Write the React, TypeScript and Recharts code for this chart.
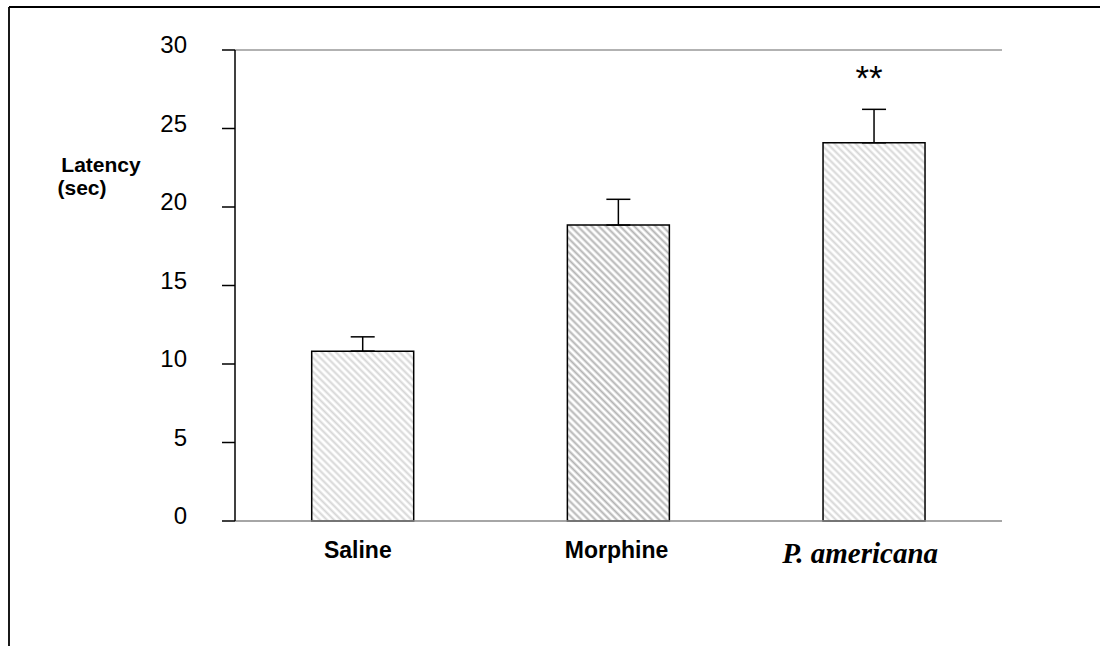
import React from "react";
import {
  BarChart,
  Bar,
  Cell,
  XAxis,
  YAxis,
  ErrorBar,
  LabelList,
  ReferenceLine,
} from "recharts";

// groups, mean latency (sec) and upper SEM bar end
const groups = ["Saline", "Morphine", "P. americana"];
const latency = [10.82, 18.85, 24.09];
const upperEnd = [11.73, 20.49, 26.22];
const marks = ["", "", "**"];
const yTicks = [0, 5, 10, 15, 20, 25, 30];

const hatch = ["hatchLight", "hatchDark", "hatchLight"];

const data = groups.map((g, i) => ({
  group: g,
  latency: latency[i],
  err: [0, +(upperEnd[i] - latency[i]).toFixed(2)],
  sig: marks[i],
}));

const SANS = "'Liberation Sans', Arial, sans-serif";
const SERIF = "'Liberation Serif', 'Times New Roman', serif";

const YTick = (props: any) => {
  const { x, y, payload } = props;
  return (
    <text x={x} y={y + 3} textAnchor="end" fontFamily={SANS} fontSize={24} fill="#000">
      {payload.value}
    </text>
  );
};

const XTick = (props: any) => {
  const { x, y, payload, index } = props;
  if (payload.value === "P. americana") {
    return (
      <text
        x={x - 14}
        y={y + 42}
        textAnchor="middle"
        fontFamily={SERIF}
        fontStyle="italic"
        fontWeight="bold"
        fontSize={29}
        fill="#000"
      >
        {payload.value}
      </text>
    );
  }
  const dx = index === 0 ? -5 : -2;
  return (
    <text
      x={x + dx}
      y={y + 37}
      textAnchor="middle"
      fontFamily={SANS}
      fontWeight="bold"
      fontSize={23}
      fill="#000"
    >
      {payload.value}
    </text>
  );
};

const SigLabel = (props: any) => {
  const { x, y, width, value } = props;
  if (!value) return null;
  return (
    <text
      x={x + width / 2 - 5}
      y={y - 53}
      textAnchor="middle"
      fontFamily={SANS}
      fontSize={35}
      fill="#000"
    >
      {value}
    </text>
  );
};

export default function App() {
  return (
    <div style={{ position: "absolute", left: 0, top: 0, width: 1100, height: 646, background: "#fff" }}>
      <svg width={0} height={0} style={{ position: "absolute" }}>
        <defs>
          <pattern id="hatchLight" patternUnits="userSpaceOnUse" width={5} height={5} patternTransform="rotate(45)">
            <rect width={5} height={5} fill="#fff" />
            <line x1={0} y1={1.5} x2={5} y2={1.5} stroke="#d6d6d6" strokeWidth={2} />
          </pattern>
          <pattern id="hatchDark" patternUnits="userSpaceOnUse" width={5} height={5} patternTransform="rotate(45)">
            <rect width={5} height={5} fill="#fff" />
            <line x1={0} y1={1.5} x2={5} y2={1.5} stroke="#b4b4b4" strokeWidth={2} />
          </pattern>
        </defs>
      </svg>
      <svg
        width={1100}
        height={646}
        style={{ position: "absolute", left: 0, top: 0, pointerEvents: "none" }}
      >
        <line x1={9} y1={7} x2={1100} y2={7} stroke="#000" strokeWidth={1.8} />
        <line x1={9} y1={7} x2={9} y2={646} stroke="#000" strokeWidth={1.8} />
        <text x={101} y={172} textAnchor="middle" fontFamily={SANS} fontWeight="bold" fontSize={21} fill="#000">
          Latency
        </text>
        <text x={82} y={195} textAnchor="middle" fontFamily={SANS} fontWeight="bold" fontSize={21} fill="#000">
          (sec)
        </text>
      </svg>
      <div style={{ position: "absolute", left: 0, top: 0 }}>
        <BarChart
          width={1100}
          height={646}
          data={data}
          margin={{ top: 50, right: 98, bottom: 85, left: 135 }}
          barCategoryGap="30%"
        >
          <XAxis
            dataKey="group"
            axisLine={{ stroke: "#888", strokeWidth: 1.5 }}
            tickLine={false}
            tickSize={0}
            tickMargin={0}
            tick={<XTick />}
            interval={0}
            height={40}
          />
          <YAxis
            yAxisId="left"
            domain={[0, 30]}
            ticks={yTicks}
            width={100}
            tickSize={13}
            tickMargin={35}
            axisLine={{ stroke: "#000", strokeWidth: 1.5 }}
            tickLine={{ stroke: "#000", strokeWidth: 1.5 }}
            tick={<YTick />}
            interval={0}
          />
          <YAxis
            yAxisId="right"
            orientation="right"
            domain={[0, 30]}
            width={0}
            tick={false}
            tickLine={false}
            axisLine={{ stroke: "#999", strokeWidth: 1.5 }}
          />
          <ReferenceLine yAxisId="left" y={30} stroke="#999" strokeWidth={1.5} />
          <Bar
            yAxisId="left"
            dataKey="latency"
            stroke="#000"
            strokeWidth={1.5}
            isAnimationActive={false}
          >
            {data.map((d, i) => (
              <Cell key={d.group} fill={`url(#${hatch[i]})`} />
            ))}
            <ErrorBar dataKey="err" width={12} stroke="#000" strokeWidth={1.5} direction="y" />
            <LabelList dataKey="sig" content={<SigLabel />} />
          </Bar>
        </BarChart>
      </div>
    </div>
  );
}
